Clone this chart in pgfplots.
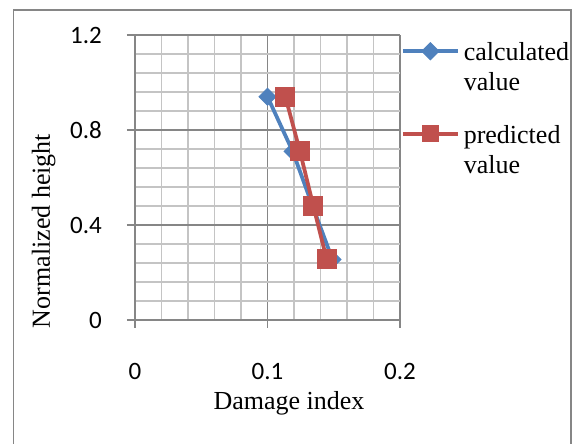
\documentclass[border=0pt]{standalone}
\usepackage{fontspec}
\setmainfont{Liberation Serif}
\newfontfamily\carlito{Carlito}
\usepackage{pgfplots}
\pgfplotsset{compat=1.18}
\definecolor{cblue}{HTML}{4F81BD}
\definecolor{cred}{HTML}{C0504D}
\definecolor{majgray}{HTML}{868686}
\definecolor{mingray}{HTML}{C4C4C4}
\begin{document}
\begin{tikzpicture}
\useasboundingbox (0,0) rectangle (577bp,444bp);
\fill[white] (0,0) rectangle (577bp,444bp);
\draw[majgray, line width=1.5bp] (13.3bp,-10bp) -- (13.3bp,434bp) -- (571bp,434bp) -- (571bp,-10bp);
\begin{axis}[
 at={(135bp,124bp)}, anchor=south west,
 scale only axis, width=265bp, height=285bp,
 xmin=0, xmax=0.2, ymin=0, ymax=1.2,
 axis lines*=left,
 axis line style={majgray, line width=1.2bp},
 xtick={0,0.1,0.2}, xticklabels={0,0.1,0.2},
 ytick={0,0.4,0.8,1.2}, yticklabels={0,0.4,0.8,1.2},
 minor xtick={0.02,0.04,0.06,0.08,0.12,0.14,0.16,0.18},
 minor ytick={0.08,0.16,0.24,0.32,0.48,0.56,0.64,0.72,0.88,0.96,1.04,1.12},
 grid=both,
 major grid style={majgray, line width=1.2bp},
 minor grid style={mingray, line width=1.2bp},
 tick align=outside, major tick length=8bp, minor tick length=0pt,
 tick style={majgray, line width=1.2bp},
 ticklabel style={font=\carlito\fontsize{25bp}{29bp}\selectfont, inner sep=0pt},
 xticklabel style={anchor=center, yshift=-43.9bp},
 yticklabel style={anchor=east, xshift=-25bp},
 xlabel={Damage index}, ylabel={Normalized height},
 every axis x label/.style={at={(axis description cs:0.581,-0.3133)}, anchor=base, font=\fontsize{26bp}{30bp}\selectfont, inner sep=0pt},
 every axis y label/.style={at={(axis description cs:-0.3208,0.3123)}, anchor=base, rotate=90, font=\fontsize{26bp}{30bp}\selectfont, inner sep=0pt},
 legend image code/.code={\draw[#1,mark repeat=2,mark phase=2] plot coordinates {(0bp,9.7bp) (27.5bp,9.7bp) (55bp,9.7bp)};},
 legend style={at={(1.0038,0.979)}, anchor=north west, draw=none, fill=none,
   inner sep=0pt, outer sep=0pt, row sep=0pt, column sep=4bp,
   font=\fontsize{26bp}{30bp}\selectfont,
   cells={anchor=base west}, nodes={inner sep=0pt}},
]
\addlegendimage{cblue, line width=3.75bp, mark=square*, mark size=6bp, mark options={rotate=45, line width=1bp, fill=cblue}}
\addlegendentry[text height=20bp, text depth=10bp]{calculated}
\addlegendimage{empty legend}
\addlegendentry[text height=20bp, text depth=32.7bp]{value}
\addlegendimage{cred, line width=3.75bp, mark=square*, mark size=8bp, mark options={line width=1bp, fill=cred}}
\addlegendentry[text height=20bp, text depth=10bp]{predicted}
\addlegendimage{empty legend}
\addlegendentry[text height=20bp, text depth=10bp]{value}

\addplot[forget plot, cblue, line width=3.75bp, mark=square*, mark size=6bp, mark options={rotate=45, line width=1bp, fill=cblue}]
 coordinates {(0.100,0.94) (0.119,0.71) (0.134,0.48) (0.149,0.255)};
\addplot[forget plot, cred, line width=3.75bp, mark=square*, mark size=9.5bp, mark options={line width=1bp, fill=cred}]
 coordinates {(0.1135,0.94) (0.1245,0.71) (0.1346,0.48) (0.1447,0.255)};
\end{axis}
\end{tikzpicture}
\end{document}
